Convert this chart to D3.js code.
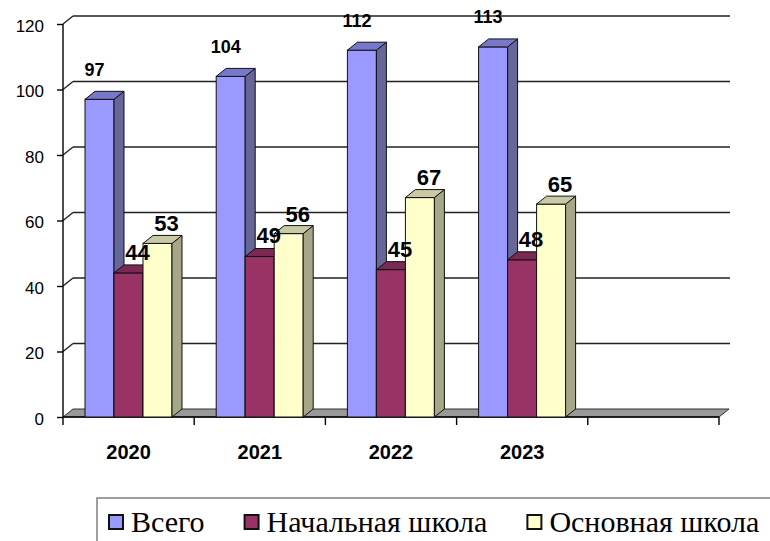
<!DOCTYPE html>
<html>
<head>
<meta charset="utf-8">
<script src="https://cdn.jsdelivr.net/npm/d3@7"></script>
<style>
  body { margin: 0; background: #fff; }
  svg { display: block; }
</style>
</head>
<body>
<svg id="chart" width="770" height="541"></svg>
<script>
// data
var years = ["2020", "2021", "2022", "2023", ""];
var seriesNames = ["Всего", "Начальная школа", "Основная школа"];
var totalValues = [97, 104, 112, 113];
var primaryValues = [44, 49, 45, 48];
var basicValues = [53, 56, 67, 65];
var yTicks = [0, 20, 40, 60, 80, 100, 120];

var seriesValues = [totalValues, primaryValues, basicValues];

// face colours for each series: front, side, top
var seriesColors = [
  {front: "#9999ff", side: "#666699", top: "#7777cc"},
  {front: "#993366", side: "#662244", top: "#7a2952"},
  {front: "#ffffcc", side: "#a6a688", top: "#c9c9a3"}
];

// label style per series (the "Всего" labels are smaller and sit higher)
var labelStyle = [
  {size: 18, dx: -5, dy: -30},
  {size: 22, dx: 9, dy: -21},
  {size: 22, dx: 9, dy: -20}
];

var svg = d3.select("#chart");

//depth of the fake 3d
var depthX = 10;
var depthY = 8;

var x = d3.scaleBand()
  .domain(years)
  .range([63, 719])
  .paddingInner(0)
  .paddingOuter(0);

var xInner = d3.scaleBand()
  .domain(seriesNames)
  .range([22, 22 + 87]);

var y = d3.scaleLinear()
  .domain([0, 120])
  .range([417, 24]);

var wallLeft = x.range()[0];
var wallRight = x.range()[1];

//floor of the chart
svg.append("polygon")
  .attr("points", [
    [wallLeft, y(0)], [wallRight, y(0)],
    [wallRight + depthX, y(0) - depthY], [wallLeft + depthX, y(0) - depthY]
  ].join(" "))
  .style("fill", "#999999")
  .style("stroke", "#333")
  .style("stroke-width", 1);

//gridlines on the back wall plus the slanted bit on the side wall
var grid = svg.append("g");
yTicks.filter(function (v) { return v > 0; }).forEach(function (v) {
  grid.append("line")
    .attr("x1", wallLeft + depthX).attr("x2", wallRight + depthX + 1)
    .attr("y1", y(v) - depthY).attr("y2", y(v) - depthY)
    .style("stroke", "#222").style("stroke-width", 1.4);
  grid.append("line")
    .attr("x1", wallLeft).attr("x2", wallLeft + depthX)
    .attr("y1", y(v)).attr("y2", y(v) - depthY)
    .style("stroke", "#222").style("stroke-width", 1.4);
});

//left axis
var yAxis = d3.axisLeft(y)
  .tickValues(yTicks)
  .tickSize(6)
  .tickPadding(13);

var yAxisG = svg.append("g")
  .attr("transform", "translate(" + wallLeft + ",0)")
  .call(yAxis);
yAxisG.select(".domain").remove();
yAxisG.selectAll("line").style("stroke", "#000").style("stroke-width", 1.4);
yAxisG.selectAll("text")
  .style("font-family", "'Liberation Sans', Arial, sans-serif")
  .style("font-size", "17px")
  .style("fill", "#000")
  .attr("dy", "0.42em");

svg.append("line")
  .attr("x1", wallLeft).attr("x2", wallLeft)
  .attr("y1", y(120)).attr("y2", y(0))
  .style("stroke", "#000").style("stroke-width", 1.4);

//category ticks at the slot borders
var tickXs = years.map(function (d) { return x(d); }).concat([wallRight]);
svg.append("g").selectAll("line")
  .data(tickXs)
  .enter().append("line")
  .attr("x1", function (d) { return d; }).attr("x2", function (d) { return d; })
  .attr("y1", y(0)).attr("y2", y(0) + 8)
  .style("stroke", "#000").style("stroke-width", 1.4);

svg.append("line")
  .attr("x1", wallLeft).attr("x2", wallRight)
  .attr("y1", y(0)).attr("y2", y(0))
  .style("stroke", "#000").style("stroke-width", 1.4);

svg.append("g").selectAll("text")
  .data(years)
  .enter().append("text")
  .attr("x", function (d) { return x(d) + x.bandwidth() / 2; })
  .attr("y", 459)
  .attr("text-anchor", "middle")
  .style("font-family", "'Liberation Sans', Arial, sans-serif")
  .style("font-weight", "bold")
  .style("font-size", "20px")
  .text(function (d) { return d; });

//bars, drawn left to right so each front hides the side of the one before
var bars = svg.append("g");
var w = xInner.bandwidth();
var base = y(0);

years.forEach(function (year, i) {
  seriesNames.forEach(function (name, s) {
    var v = seriesValues[s][i];
    if (v === undefined) { return; }
    var x0 = x(year) + xInner(name);
    var y0 = y(v);
    var c = seriesColors[s];

    bars.append("rect")
      .attr("x", x0).attr("y", y0)
      .attr("width", w).attr("height", base - y0)
      .style("fill", c.front).style("stroke", "#111").style("stroke-width", 1);

    bars.append("polygon")
      .attr("points", [
        [x0 + w, y0], [x0 + w + depthX, y0 - depthY],
        [x0 + w + depthX, base - depthY], [x0 + w, base]
      ].join(" "))
      .style("fill", c.side).style("stroke", "#111").style("stroke-width", 1);

    bars.append("polygon")
      .attr("points", [
        [x0, y0], [x0 + depthX, y0 - depthY],
        [x0 + w + depthX, y0 - depthY], [x0 + w, y0]
      ].join(" "))
      .style("fill", c.top).style("stroke", "#111").style("stroke-width", 1);
  });
});

//value labels on top
var labels = svg.append("g");
years.forEach(function (year, i) {
  seriesNames.forEach(function (name, s) {
    var v = seriesValues[s][i];
    if (v === undefined) { return; }
    var st = labelStyle[s];
    labels.append("text")
      .attr("x", x(year) + xInner(name) + w / 2 + st.dx)
      .attr("y", y(v) + st.dy)
      .attr("dy", "0.36em")
      .attr("text-anchor", "middle")
      .style("font-family", "'Liberation Sans', Arial, sans-serif")
      .style("font-weight", "bold")
      .style("font-size", st.size + "px")
      .text(v);
  });
});

//legend
var legendLeft = 97;
var legendTop = 498;
svg.append("path")
  .attr("d", "M" + legendLeft + ",541V" + legendTop + "H770")
  .style("fill", "none")
  .style("stroke", "#808080")
  .style("stroke-width", 1.5);

var legend = svg.append("g");
var lx = 109;
seriesNames.forEach(function (name, s) {
  legend.append("rect")
    .attr("x", lx).attr("y", 515)
    .attr("width", 14).attr("height", 14)
    .style("fill", seriesColors[s].front)
    .style("stroke", "#111")
    .style("stroke-width", 2);
  var t = legend.append("text")
    .attr("x", lx + 22)
    .attr("y", 532)
    .style("font-family", "'Liberation Serif', 'Times New Roman', serif")
    .style("font-size", "30px")
    .style("fill", "#000")
    .text(name);
  lx = lx + 22 + t.node().getComputedTextLength() + 40;
});
</script>
</body>
</html>
